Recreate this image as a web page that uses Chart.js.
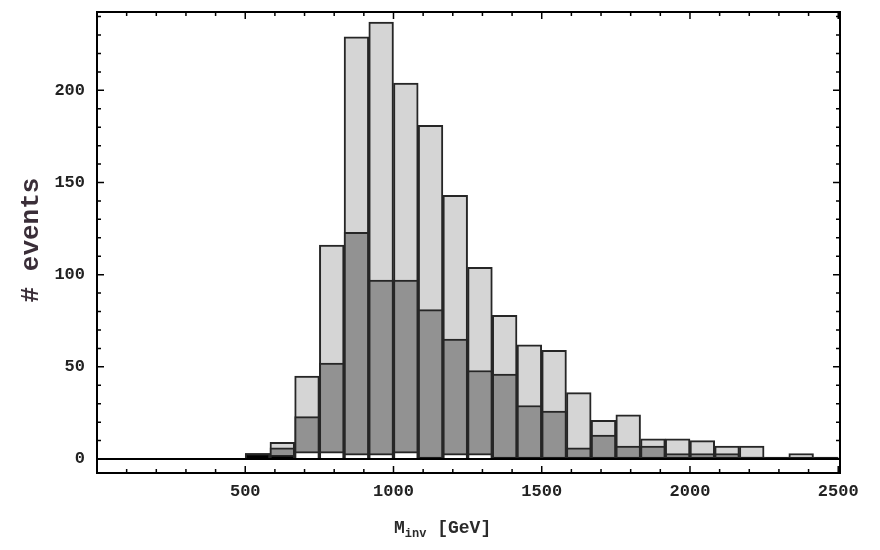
<!DOCTYPE html>
<html>
<head>
<meta charset="utf-8">
<script src="https://cdn.jsdelivr.net/npm/chart.js@4/dist/chart.umd.min.js"></script>
<style>
  html, body { margin: 0; padding: 0; background: #fff; }
  #wrap { width: 880px; height: 550px; }
</style>
</head>
<body>
<div id="wrap"><canvas id="massChart" width="880" height="550"></canvas></div>
<script>
// Invariant mass histogram, 30 bins from 0 to 2500 GeV
const binWidth = 2500 / 30;
const binCenters = Array.from({ length: 30 }, (_, i) => (i + 0.5) * binWidth);

// event counts per bin, one array per selection
const allEvents = [0, 0, 0, 0, 0, 0, 3, 9, 45, 116, 229, 237, 204, 181, 143, 104, 78, 62, 59, 36, 21, 24, 11, 11, 10, 7, 7, 0, 3, 0];
const passedCut = [0, 0, 0, 0, 0, 0, 3, 6, 23, 52, 123, 97, 97, 81, 65, 48, 46, 29, 26, 6, 13, 7, 7, 3, 3, 3, 1, 0, 0, 0];
const whiteBins = [0, 0, 0, 0, 0, 0, 0, 0, 4, 4, 3, 3, 4, 0, 3, 3, 0, 0, 0, 0, 0, 0, 0, 0, 0, 0, 0, 0, 0, 0];
const blackBins = [0, 0, 0, 0, 0, 0, 3, 2, 0, 0, 0, 0, 0, 1, 0, 0, 1, 1, 1, 1, 1, 1, 1, 1, 1, 1, 1, 1, 1, 1];

const xTickLabels = [500, 1000, 1500, 2000, 2500];
const yTickLabels = [0, 50, 100, 150, 200];

const monoFont = 'Liberation Mono, DejaVu Sans Mono, monospace';

function toPoints(values) {
    return values.map((v, i) => ({ x: binCenters[i], y: v }));
}

function barSet(values, fill, order) {
    return {
        data: toPoints(values),
        backgroundColor: fill,
        borderColor: '#262626',
        borderWidth: 2,
        barPercentage: 1,
        categoryPercentage: 1,
        grouped: false,
        order: order
    };
}

// box, inward tick marks, zero line and axis titles
const framePlugin = {
    id: 'frame',
    afterDatasetsDraw(chart) {
        const { ctx, chartArea: a, scales: { x, y } } = chart;
        ctx.save();
        ctx.strokeStyle = '#000';

        // horizontal axis at zero
        const y0 = y.getPixelForValue(0);
        ctx.lineWidth = 2.2;
        ctx.beginPath();
        ctx.moveTo(a.left, y0);
        ctx.lineTo(a.right, y0);
        ctx.stroke();

        ctx.lineWidth = 2;
        ctx.strokeRect(a.left, a.top, a.right - a.left, a.bottom - a.top);

        ctx.lineWidth = 1.5;
        ctx.beginPath();
        for (let v = 10; v <= 240; v += 10) {
            const py = y.getPixelForValue(v);
            const len = v % 50 === 0 ? 7 : 4;
            ctx.moveTo(a.left, py); ctx.lineTo(a.left + len, py);
            ctx.moveTo(a.right, py); ctx.lineTo(a.right - len, py);
        }
        for (let v = 100; v <= 2500; v += 100) {
            const px = x.getPixelForValue(v);
            const len = v % 500 === 0 ? 7 : 4;
            ctx.moveTo(px, a.bottom); ctx.lineTo(px, a.bottom - len);
            ctx.moveTo(px, a.top); ctx.lineTo(px, a.top + len);
        }
        ctx.stroke();
        ctx.restore();
    },
    afterDraw(chart) {
        const { ctx } = chart;
        ctx.save();
        ctx.fillStyle = '#2a2a2a';
        ctx.textBaseline = 'alphabetic';

        // x title: M with subscript inv
        ctx.font = 'bold 18px ' + monoFont;
        let px = 394;
        const base = 533;
        ctx.fillText('M', px, base);
        px += ctx.measureText('M').width;
        ctx.font = 'bold 12px ' + monoFont;
        ctx.fillText('inv', px, base + 4);
        px += ctx.measureText('inv').width;
        ctx.font = 'bold 18px ' + monoFont;
        ctx.fillText(' [GeV]', px, base);

        // y title
        ctx.translate(31, 240);
        ctx.rotate(-Math.PI / 2);
        ctx.textAlign = 'center';
        ctx.textBaseline = 'middle';
        ctx.fillStyle = '#3a2e38';
        ctx.font = 'bold 26px ' + monoFont;
        ctx.fillText('# events', 0, 0);
        ctx.restore();
    }
};

new Chart(document.getElementById('massChart'), {
    type: 'bar',
    data: {
        datasets: [
            barSet(allEvents, '#d5d5d5', 4),
            barSet(passedCut, '#929292', 3),
            barSet(whiteBins, '#ffffff', 2),
            barSet(blackBins, '#000000', 1)
        ]
    },
    options: {
        responsive: false,
        animation: false,
        layout: { padding: { top: 12, right: 40, left: 0, bottom: 0 } },
        plugins: { legend: { display: false }, tooltip: { enabled: false } },
        scales: {
            x: {
                type: 'linear',
                offset: false,
                min: 0,
                max: 2506,
                grid: { display: false, drawTicks: false },
                border: { display: false },
                afterFit: s => { s.height = 77; s.paddingLeft = 0; s.paddingRight = 0; },
                afterBuildTicks: s => { s.ticks = xTickLabels.map(v => ({ value: v })); },
                ticks: {
                    autoSkip: false,
                    maxRotation: 0,
                    padding: 9,
                    color: '#222',
                    font: { family: monoFont, weight: 'bold', size: 17 },
                    callback: v => String(v)
                }
            },
            y: {
                min: -7.6,
                max: 242.5,
                grid: { display: false, drawTicks: false },
                border: { display: false },
                afterFit: s => { s.width = 97; s.paddingTop = 0; s.paddingBottom = 0; },
                afterBuildTicks: s => { s.ticks = yTickLabels.map(v => ({ value: v })); },
                ticks: {
                    autoSkip: false,
                    padding: 12,
                    color: '#222',
                    font: { family: monoFont, weight: 'bold', size: 17 },
                    callback: v => String(v)
                }
            }
        }
    },
    plugins: [framePlugin]
});
</script>
</body>
</html>
